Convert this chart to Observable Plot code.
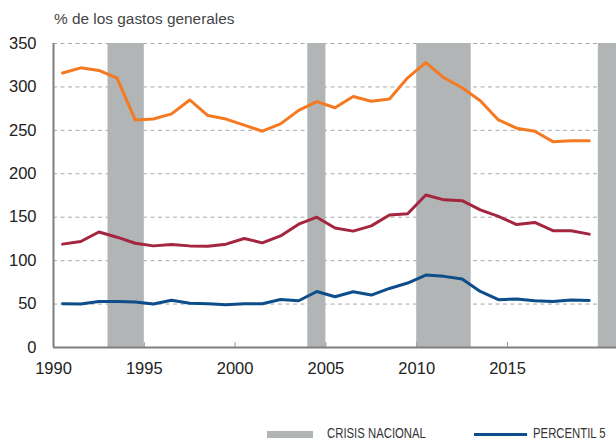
<!DOCTYPE html>
<html>
<head>
<meta charset="utf-8">
<script src="https://cdn.jsdelivr.net/npm/d3@7"></script>
<script src="https://cdn.jsdelivr.net/npm/@observablehq/plot@0.6"></script>
<style>
  body { margin: 0; width: 616px; height: 440px; overflow: hidden; position: relative; background: #fff;
         font-family: "Liberation Sans", Arial, Helvetica, sans-serif; }
  #title { position: absolute; left: 54px; top: 10px; font-size: 15.4px; color: #444; white-space: nowrap; }
  #chart { position: absolute; left: 0; top: 32px; }
  .leg { position: absolute; font-family: "Liberation Sans", Arial, sans-serif;
         font-size: 14px; color: #333; white-space: nowrap; line-height: 11px; height: 11px;
         transform: scaleX(0.81); transform-origin: 0 50%; }
  .sw { position: absolute; }
</style>
</head>
<body>
<div id="title">% de los gastos generales</div>
<div id="chart"></div>
<div class="sw" style="left:267px; top:431px; width:46px; height:7px; background:#b2b5b5"></div>
<div class="leg" style="left:327px; top:428px">CRISIS NACIONAL</div>
<div class="sw" style="left:474px; top:433px; width:53px; height:3px; background:#0c4d8a"></div>
<div class="leg" style="left:533px; top:428px">PERCENTIL 5</div>
<script>
// Data (mid-year observations)
const years = [1990,1991,1992,1993,1994,1995,1996,1997,1998,1999,2000,2001,2002,2003,2004,
               2005,2006,2007,2008,2009,2010,2011,2012,2013,2014,2015,2016,2017,2018,2019];
const seriesTop = [316,322,319,310,262,263,269,285,267,263,256,249,257.5,273,283,
                   276,289,283.5,286,310.5,328,310.5,299,284,262,252.5,249,237,238,238];
const seriesMid = [119,122,133,127,120,117,118.5,117,116.5,119,125.5,120.5,128.5,142,150,
                   137.5,134,140,152.5,154,175.5,170,169,158.5,151,141.5,144,134.5,134.5,130.5];
const percentil5 = [50.5,50,53,53,52.5,50,54.5,51,50.5,49.2,50.4,50.4,55.3,53.8,64.5,
                    58.4,64.2,60.4,68,74.2,83.4,81.9,78.8,64.5,55,55.8,53.8,53,54.6,54.2];
const crisisStart = [1993, 2004, 2010, 2020];
const crisisEnd   = [1995, 2005, 2013, 2021];
const xTicks = [1990, 1995, 2000, 2005, 2010, 2015];
const yTicks = [0, 50, 100, 150, 200, 250, 300, 350];

const crises = crisisStart.map((s, i) => ({start: s, end: crisisEnd[i]}));
const mk = arr => years.map((y, i) => ({x: y + 0.5, v: arr[i]}));

const H = 360, MT = 11, MB = 45;
const chart = Plot.plot({
  width: 616,
  height: H,
  marginTop: MT,
  marginBottom: MB,
  marginLeft: 53,
  marginRight: 0,
  style: {fontFamily: '"Liberation Sans", Arial, Helvetica, sans-serif', fontSize: "16.5px", background: "#fff"},
  x: {domain: [1990, 2021]},
  y: {domain: [0, 350]},
  marks: [
    Plot.ruleY(yTicks.filter(d => d > 0), {stroke: "#a9a9a9", strokeWidth: 1, strokeDasharray: "4,3.5"}),
    Plot.rect(crises, {x1: "start", x2: "end", fill: "#b2b5b5"}),
    Plot.ruleX(xTicks.filter(d => d > 1990), {stroke: "#999", strokeWidth: 1, insetTop: H - MT - MB - 5}),
    Plot.ruleX([1990], {stroke: "#7f7f7f", strokeWidth: 2}),
    Plot.ruleY([0], {stroke: "#7f7f7f", strokeWidth: 2}),
    Plot.line(mk(seriesTop), {x: "x", y: "v", stroke: "#f47920", strokeWidth: 3, strokeLinejoin: "round"}),
    Plot.line(mk(seriesMid), {x: "x", y: "v", stroke: "#a4253f", strokeWidth: 3, strokeLinejoin: "round"}),
    Plot.line(mk(percentil5), {x: "x", y: "v", stroke: "#0c4d8a", strokeWidth: 3, strokeLinejoin: "round"}),
    Plot.axisY({ticks: yTicks, tickSize: 0, tickPadding: 17, fontSize: 16.5, fill: "#222", label: null}),
    Plot.axisX({ticks: xTicks, tickSize: 0, tickPadding: 15, fontSize: 16.5, fill: "#222", tickFormat: "d", label: null})
  ]
});
document.getElementById("chart").appendChild(chart);
</script>
</body>
</html>
